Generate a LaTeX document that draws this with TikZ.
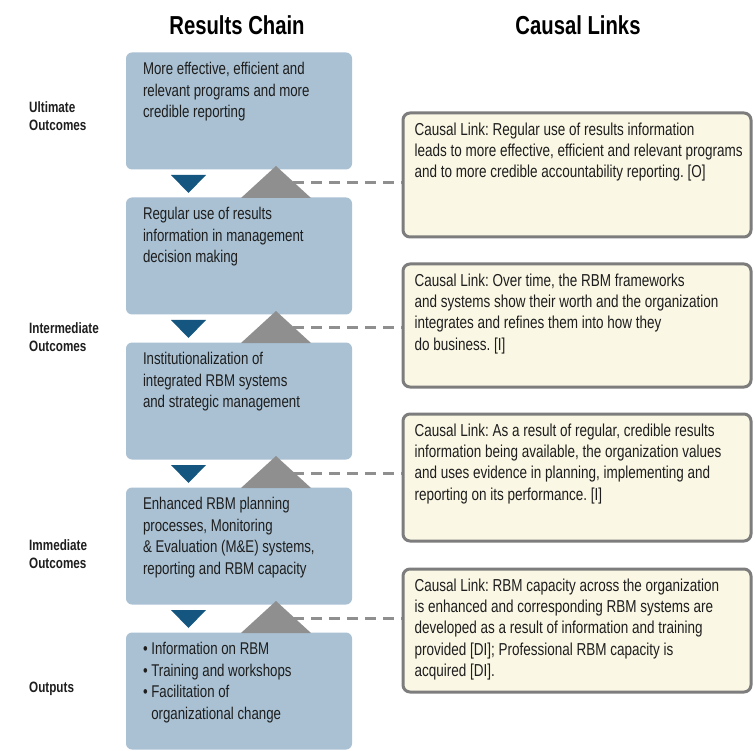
\documentclass[tikz,border=0pt]{standalone}
\usepackage{fontspec}
\setmainfont[FakeStretch=0.78]{Liberation Sans}
\frenchspacing
\definecolor{boxblue}{RGB}{169,193,211}
\definecolor{triblue}{RGB}{20,86,127}
\definecolor{trigray}{RGB}{143,143,143}
\definecolor{cream}{RGB}{250,247,228}
\definecolor{bordergray}{RGB}{125,125,125}
\definecolor{txt}{RGB}{30,30,30}
\tikzset{
  lbox/.style={fill=boxblue, rounded corners=6pt, minimum width=226pt, minimum height=117pt, inner sep=0pt},
  rbox/.style={fill=cream, draw=bordergray, line width=3pt, rounded corners=7pt, minimum width=348pt, inner sep=0pt},
  ltext/.style={anchor=north west, align=left, font=\fontsize{17}{21.5}\selectfont, text=txt, inner sep=0pt},
  rtext/.style={anchor=north west, align=left, font=\fontsize{17.3}{21.3}\selectfont, text=txt, inner sep=0pt},
  sidelabel/.style={anchor=west, align=left, font=\fontsize{15}{18.5}\selectfont\bfseries, text=txt, inner sep=0pt},
  heading/.style={font=\fontsize{26}{30}\selectfont\bfseries, text=black, inner sep=0pt},
  link/.style={draw=trigray, line width=3pt, dash pattern=on 11pt off 7pt},
}
\begin{document}
\begin{tikzpicture}[x=1pt,y=-1pt]
\useasboundingbox (0,0) rectangle (755,751);
\fill[white] (0,0) rectangle (755,751);

\node[heading] (h1) at (237,25) {Results Chain};
\node[heading] (h2) at (578,25) {Causal Links};

% left boxes
\node[lbox] (b1) at (239,111) {};
\node[lbox] (b2) at (239,256) {};
\node[lbox] (b3) at (239,401) {};
\node[lbox] (b4) at (239,546) {};
\node[lbox] (b5) at (239,691) {};

\node[ltext] (t1) at ([xshift=17pt,yshift=-10pt]b1.north west) {More effective, efficient and\\relevant programs and more\\credible reporting};
\node[ltext] (t2) at ([xshift=17pt,yshift=-10pt]b2.north west) {Regular use of results\\information in management\\decision making};
\node[ltext] (t3) at ([xshift=17pt,yshift=-10pt]b3.north west) {Institutionalization of\\integrated RBM systems\\and strategic management};
\node[ltext] (t4) at ([xshift=17pt,yshift=-10pt]b4.north west) {Enhanced RBM planning\\processes, Monitoring\\\& Evaluation (M\&E) systems,\\reporting and RBM capacity};
\node[ltext] (t5) at ([xshift=17pt,yshift=-10pt]b5.north west) {\textbullet\ Information on RBM\\\textbullet\ Training and workshops\\\textbullet\ Facilitation of\\\phantom{\textbullet\ }organizational change};

% side labels
\node[sidelabel] (s1) at (29,116) {Ultimate\\Outcomes};
\node[sidelabel] (s2) at (29,337) {Intermediate\\Outcomes};
\node[sidelabel] (s3) at (29,554) {Immediate\\Outcomes};
\node[sidelabel] (s4) at (29,689) {Outputs};

% right boxes
\node[rbox, minimum height=124pt] (r1) at (577,175) {};
\node[rbox, minimum height=123pt] (r2) at (577,325.5) {};
\node[rbox, minimum height=127pt] (r3) at (577,477.5) {};
\node[rbox, minimum height=123pt] (r4) at (577,630.5) {};

\node[rtext] (u1) at ([xshift=13pt,yshift=-11pt]r1.north west) {Causal Link: Regular use of results information\\leads to more effective, efficient and relevant programs\\and to more credible accountability reporting. [O]};
\node[rtext] (u2) at ([xshift=13pt,yshift=-11pt]r2.north west) {Causal Link: Over time, the RBM frameworks\\and systems show their worth and the organization\\integrates and refines them into how they\\do business. [I]};
\node[rtext] (u3) at ([xshift=13pt,yshift=-11pt]r3.north west) {Causal Link: As a result of regular, credible results\\information being available, the organization values\\and uses evidence in planning, implementing and\\reporting on its performance. [I]};
\node[rtext] (u4) at ([xshift=13pt,yshift=-11pt]r4.north west) {Causal Link: RBM capacity across the organization\\is enhanced and corresponding RBM systems are\\developed as a result of information and training\\provided [DI]; Professional RBM capacity is\\acquired [DI].};

% triangles and links
\foreach \k/\r in {0/r1,1/r2,2/r3,3/r4}{
  \pgfmathsetmacro{\yb}{170+145*\k}
  \pgfmathsetmacro{\yt}{198+145*\k}
  \fill[triblue] (171,\yb+5) -- (206,\yb+5) -- (188.5,\yb+23) -- cycle;
  \fill[trigray] (241,\yt) -- (311,\yt) -- (276,\yb-4) -- cycle;
  \coordinate (g\k) at (293,\yb+13);
  \draw[link] (g\k) -- (g\k -| \r.west);
}
\end{tikzpicture}
\end{document}
